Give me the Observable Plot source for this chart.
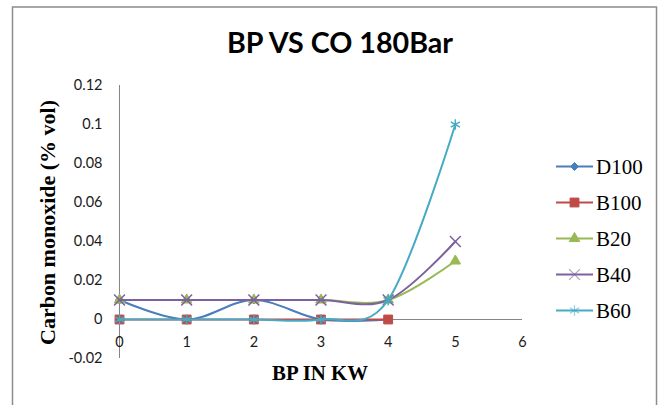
<!DOCTYPE html>
<html>
<head>
<meta charset="utf-8">
<script src="https://cdn.jsdelivr.net/npm/d3@7"></script>
<script src="https://cdn.jsdelivr.net/npm/@observablehq/plot@0.6"></script>
<style>
  body { margin: 0; background: #fff; }
  #chart { position: relative; width: 665px; height: 405px; overflow: hidden; background: #fff; }
  #chart svg { position: absolute; left: 0; top: 0; }
</style>
</head>
<body>
<div id="chart"></div>
<script>
// Brake power (kW) against carbon monoxide emission (% vol) at 180 bar injection pressure
const title = "BP VS CO 180Bar";
const xTitle = "BP IN KW";
const yTitle = "Carbon monoxide (% vol)";

const bp = [0, 1, 2, 3, 4, 5];
const seriesNames = ["D100", "B100", "B20", "B40", "B60"];
const d100 = [0.01, 0, 0.01, 0, 0];
const b100 = [0, 0, 0, 0, 0];
const b20 = [0.01, 0.01, 0.01, 0.01, 0.01, 0.03];
const b40 = [0.01, 0.01, 0.01, 0.01, 0.01, 0.04];
const b60 = [0, 0, 0, 0, 0.01, 0.1];

const xTicks = [0, 1, 2, 3, 4, 5, 6];
const yTicks = [-0.02, 0, 0.02, 0.04, 0.06, 0.08, 0.1, 0.12];
const axisCrossing = 0;

const seriesValues = [d100, b100, b20, b40, b60];
const colors = ["#4a7ebb", "#be4b48", "#98b954", "#7d60a0", "#46aac5"];

// Square diamond marker (d3's diamond is too tall and narrow)
const squareDiamond = {
  draw(ctx, size) {
    const h = Math.sqrt(size / Math.PI);
    ctx.moveTo(0, -h); ctx.lineTo(h, 0); ctx.lineTo(0, h); ctx.lineTo(-h, 0); ctx.closePath();
  }
};
const markers = [
  {symbol: squareDiamond, r: 4, filled: true},
  {symbol: "square", r: 5, filled: true},
  {symbol: "triangle", r: 3.9, filled: true},
  {symbol: "times", r: 5, filled: false},
  {symbol: "asterisk", r: 5, filled: false}
];

const rows = seriesNames.flatMap((name, i) =>
  seriesValues[i].map((v, j) => ({series: name, bp: bp[j], co: v}))
);

const axisGray = "#868686";
const tickFont = "Lato, 'Liberation Sans', sans-serif";

const marks = [
  Plot.ruleX([axisCrossing], {stroke: axisGray, strokeWidth: 1}),
  Plot.ruleY([axisCrossing], {stroke: axisGray, strokeWidth: 1}),
  Plot.text(xTicks, {
    x: d => d, y: () => axisCrossing, dy: 23,
    text: d => String(d), fontSize: 14.5, fill: "#1a1a1a"
  })
];
seriesNames.forEach((name, i) => {
  const data = rows.filter(r => r.series === name);
  const m = markers[i];
  marks.push(Plot.line(data, {
    x: "bp", y: "co", stroke: "series", strokeWidth: 2,
    curve: "cardinal", tension: 0
  }));
  marks.push(Plot.dot(data, {
    x: "bp", y: "co", symbol: m.symbol, r: m.r,
    fill: m.filled ? "series" : "none",
    stroke: "series", strokeWidth: m.filled ? 1 : 1.5
  }));
});

const plot = Plot.plot({
  width: 665,
  height: 405,
  marginLeft: 119,
  marginRight: 143,
  marginTop: 85,
  marginBottom: 47,
  style: {fontFamily: tickFont, fontSize: "14.5px", color: "#1a1a1a", background: "transparent", overflow: "visible"},
  x: {domain: [0, 6], axis: null},
  y: {
    domain: [-0.02, 0.12], ticks: yTicks, tickSize: 0, tickPadding: 17,
    tickFormat: d => String(+d.toFixed(2)), label: null
  },
  color: {domain: seriesNames, range: colors},
  marks
});

const chart = document.getElementById("chart");

// Background layer: outer frame
const backLayer = d3.select(chart).append("svg")
  .attr("width", 665).attr("height", 405);

backLayer.append("rect")
  .attr("x", 12.5).attr("y", 7).attr("width", 644).attr("height", 430)
  .attr("fill", "#fff").attr("stroke", "#8c8c8c").attr("stroke-width", 1.5);

chart.append(plot);

// Front layer: titles and legend
const frontLayer = d3.select(chart).append("svg")
  .attr("width", 665).attr("height", 405);

frontLayer.append("text")
  .attr("x", 340).attr("y", 53)
  .attr("text-anchor", "middle")
  .attr("font-family", "Lato, 'Open Sans', sans-serif")
  .attr("font-weight", 700).attr("font-size", 28)
  .attr("textLength", 226).attr("lengthAdjust", "spacingAndGlyphs")
  .attr("fill", "#000")
  .text(title);

frontLayer.append("text")
  .attr("x", 320).attr("y", 380)
  .attr("text-anchor", "middle")
  .attr("font-family", "'Liberation Serif', 'Times New Roman', serif")
  .attr("font-weight", 700).attr("font-size", 21)
  .attr("textLength", 96).attr("lengthAdjust", "spacingAndGlyphs")
  .attr("fill", "#000")
  .text(xTitle);

frontLayer.append("text")
  .attr("transform", "translate(55,222.5) rotate(-90)")
  .attr("text-anchor", "middle")
  .attr("font-family", "'Liberation Serif', 'Times New Roman', serif")
  .attr("font-weight", 700).attr("font-size", 22)
  .attr("textLength", 245).attr("lengthAdjust", "spacingAndGlyphs")
  .attr("fill", "#000")
  .text(yTitle);

// Legend
const legend = frontLayer.append("g");
seriesNames.forEach((name, i) => {
  const cy = 166.5 + i * 36;
  const g = legend.append("g").attr("transform", `translate(0,${cy})`);
  g.append("line").attr("x1", 556).attr("x2", 593).attr("y1", 0).attr("y2", 0)
    .attr("stroke", colors[i]).attr("stroke-width", 2);
  const m = markers[i];
  const symType = typeof m.symbol === "string"
    ? {square: d3.symbolSquare, triangle: d3.symbolTriangle, times: d3.symbolTimes, asterisk: d3.symbolAsterisk}[m.symbol]
    : m.symbol;
  g.append("path")
    .attr("transform", "translate(574.5,0)")
    .attr("d", d3.symbol(symType, Math.PI * m.r * m.r)())
    .attr("fill", m.filled ? colors[i] : "none")
    .attr("stroke", colors[i]).attr("stroke-width", m.filled ? 1 : 1.2)
    .attr("stroke-opacity", m.filled ? 1 : 0.6);
  g.append("text")
    .attr("x", 596).attr("y", 7)
    .attr("font-family", "'Liberation Serif', 'Times New Roman', serif")
    .attr("font-size", 21).attr("fill", "#000")
    .text(name);
});
</script>
</body>
</html>
